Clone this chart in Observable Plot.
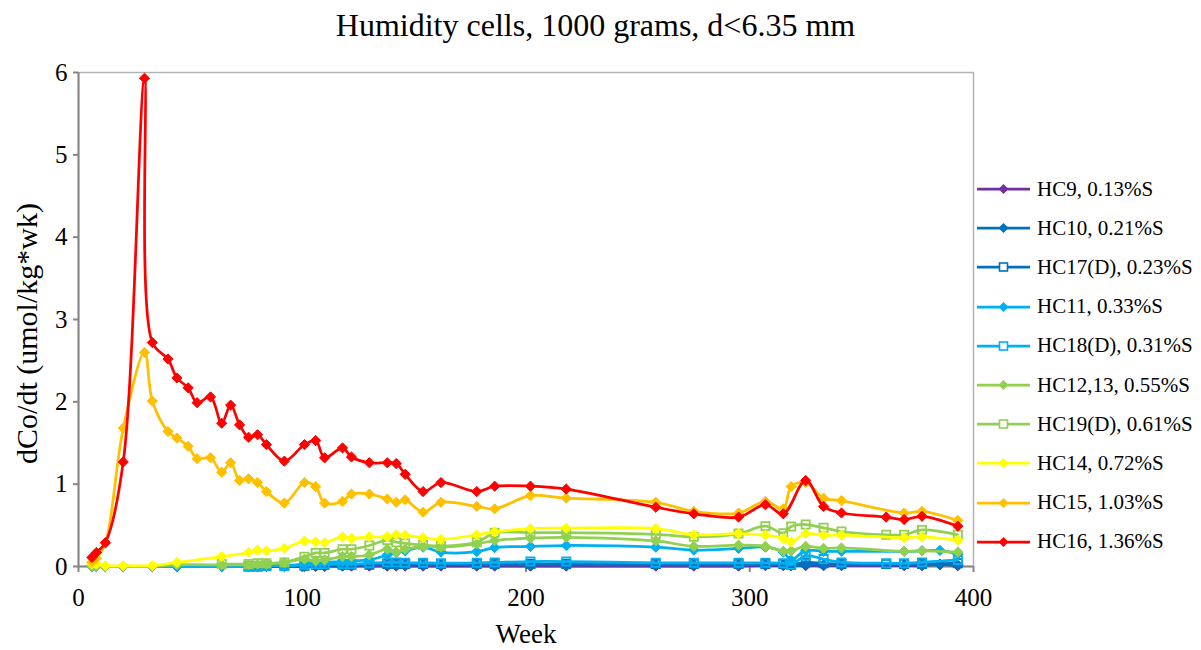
<!DOCTYPE html>
<html>
<head>
<meta charset="utf-8">
<script src="https://cdn.jsdelivr.net/npm/d3@7"></script>
<script src="https://cdn.jsdelivr.net/npm/@observablehq/plot@0.6"></script>
<style>
  body { margin: 0; background: #fff; }
  #wrap { position: relative; width: 1201px; height: 650px; font-family: "Liberation Serif", "Times New Roman", serif; color: #000; }
  #title { position: absolute; left: 0; top: 9px; width: 1191px; text-align: center; font-size: 32px; line-height: 32px; white-space: nowrap; }
  #chart { position: absolute; left: 0; top: 50px; }
  .lg { position: absolute; left: 977px; height: 24px; display: flex; align-items: center; font-size: 21px; white-space: nowrap; }
  .lg svg { display: block; margin-right: 6px; }
</style>
</head>
<body>
<div id="wrap">
  <div id="title">Humidity cells, 1000 grams, d&lt;6.35 mm</div>
  <div id="chart"></div>
</div>
<script>
// Sampling weeks (shared); null = no sample for that cell
const weeks = [6, 8, 12, 20, 29.5, 33, 40, 44, 49, 53,
  59, 64, 68, 72, 76, 80, 84, 92, 101, 106,
  110, 118, 122, 130, 138, 142, 146, 154, 162, 178,
  186, 202, 218, 258, 275, 295, 307, 315, 318.5, 325,
  333, 341, 361, 369, 377, 385, 393];

const HC9 = [0, 0, 0, 0, null, 0, null, 0, null, null,
  null, 0, null, null, 0, 0, 0, 0, 0, 0,
  0, 0.005, 0.005, 0.005, 0.005, 0.005, 0.005, 0.005, 0.005, 0.005,
  0.005, 0.005, 0.005, 0.005, 0.005, 0.005, 0.01, 0.01, 0.01, 0.01,
  0.01, 0.01, null, 0.01, 0.01, 0.03, 0.01];
const HC10 = [0, 0, 0, 0, null, 0, null, 0, null, null,
  null, 0, null, null, 0, 0.01, 0.01, 0.01, 0.01, 0.01,
  0.01, 0.01, 0.02, 0.02, 0.02, 0.02, 0.02, 0.02, 0.02, 0.02,
  0.02, 0.02, 0.02, 0.02, 0.02, 0.02, 0.02, 0.02, 0.01, 0.02,
  0.02, 0.02, null, 0.02, 0.02, 0.02, 0.02];
const HC17D = [null, null, null, null, null, null, null, null, null, null,
  null, null, null, null, 0, 0, 0.01, 0.01, 0.01, 0.02,
  0.02, 0.02, 0.02, 0.02, 0.03, 0.03, 0.03, 0.03, 0.03, 0.03,
  0.03, 0.03, 0.03, 0.03, 0.03, 0.03, 0.03, 0.03, 0.02, 0.05,
  0.04, 0.03, 0.03, 0.03, 0.03, null, 0.04];
const HC11 = [0, 0, 0, 0, null, 0, null, 0, null, null,
  null, 0, null, null, 0, 0.01, 0.01, 0.01, 0.03, 0.04,
  0.05, 0.06, 0.07, 0.08, 0.14, 0.17, 0.19, 0.235, 0.175, 0.18,
  0.23, 0.245, 0.255, 0.235, 0.20, 0.22, 0.235, 0.175, 0.08, 0.195,
  0.185, 0.185, null, 0.185, 0.19, 0.195, 0.15];
const HC18D = [null, null, null, null, null, null, null, null, null, null,
  null, null, null, null, 0, 0, 0.01, 0.01, 0.02, 0.03,
  0.03, 0.03, 0.03, 0.04, 0.05, 0.05, 0.045, 0.045, 0.04, 0.045,
  0.05, 0.06, 0.06, 0.045, 0.045, 0.045, 0.045, 0.04, 0.02, 0.13,
  0.09, 0.05, 0.04, 0.04, 0.05, null, 0.08];
const HC1213 = [0, 0, 0, 0, null, 0, null, 0.02, null, null,
  null, 0.02, null, null, 0.02, 0.03, 0.03, 0.05, 0.09, 0.07,
  0.08, 0.12, 0.12, 0.14, 0.21, 0.175, 0.21, 0.245, 0.235, 0.275,
  0.315, 0.345, 0.355, 0.31, 0.245, 0.26, 0.245, 0.185, 0.19, 0.245,
  0.22, 0.225, null, 0.185, 0.19, null, 0.175];
const HC19D = [null, null, null, null, null, null, null, null, null, null,
  null, 0.03, null, null, 0.03, 0.04, 0.04, 0.05, 0.12, 0.165,
  0.165, 0.21, 0.21, 0.255, 0.32, 0.295, 0.28, 0.26, 0.25, 0.295,
  0.41, 0.41, 0.41, 0.39, 0.36, 0.40, 0.49, 0.405, 0.485, 0.51,
  0.47, 0.425, 0.385, 0.385, 0.445, null, 0.385];
const HC14 = [0.03, 0.03, 0.01, 0.01, null, 0.01, null, 0.05, null, null,
  null, 0.12, null, null, 0.17, 0.20, 0.19, 0.22, 0.31, 0.30,
  0.29, 0.36, 0.34, 0.36, 0.36, 0.385, 0.38, 0.35, 0.33, 0.385,
  0.42, 0.46, 0.465, 0.46, 0.385, 0.40, 0.38, 0.34, 0.30, 0.40,
  0.38, 0.38, null, 0.35, 0.36, null, 0.32];
const HC15 = [0.05, 0.10, 0.28, 1.68, 2.60, 2.01, 1.64, 1.56, 1.46, 1.31,
  1.32, 1.145, 1.26, 1.045, 1.065, 1.02, 0.91, 0.77, 1.02, 0.97,
  0.77, 0.79, 0.88, 0.88, 0.82, 0.78, 0.81, 0.66, 0.78, 0.73,
  0.70, 0.86, 0.83, 0.78, 0.67, 0.65, 0.79, 0.70, 0.97, 1.02,
  0.83, 0.80, null, 0.65, 0.67, null, 0.56];
const HC16 = [0.11, 0.17, 0.29, 1.27, 5.93, 2.72, 2.52, 2.29, 2.17, 1.99,
  2.06, 1.74, 1.96, 1.72, 1.57, 1.60, 1.48, 1.28, 1.48, 1.53,
  1.32, 1.44, 1.33, 1.26, 1.26, 1.25, 1.12, 0.91, 1.02, 0.91,
  0.975, 0.975, 0.94, 0.72, 0.64, 0.60, 0.75, 0.64, null, 1.045,
  0.73, 0.65, 0.60, 0.57, 0.61, null, 0.49];

const seriesNames = ["HC9, 0.13%S", "HC10, 0.21%S", "HC17(D), 0.23%S", "HC11, 0.33%S", "HC18(D), 0.31%S",
  "HC12,13, 0.55%S", "HC19(D), 0.61%S", "HC14, 0.72%S", "HC15, 1.03%S", "HC16, 1.36%S"];
const seriesValues = [HC9, HC10, HC17D, HC11, HC18D, HC1213, HC19D, HC14, HC15, HC16];
const seriesColors = ["#7030A0", "#0070C0", "#0070C0", "#00B0F0", "#00B0F0",
  "#92D050", "#92D050", "#FFFF00", "#FFC000", "#FF0000"];
const seriesMarkers = ["diamond", "diamond", "square", "diamond", "square",
  "diamond", "square", "diamond", "diamond", "diamond"];

const xTicks = [0, 100, 200, 300, 400];
const yTicks = [0, 1, 2, 3, 4, 5, 6];
const xLabel = "Week";
const yLabel = "dCo/dt (umol/kg*wk)";

const axisGrey = "#868686";

const seriesMarks = [];
seriesValues.forEach((vals, i) => {
  const rows = weeks.map((w, j) => ({week: w, value: vals[j]})).filter(d => d.value != null);
  const sq = seriesMarkers[i] === "square";
  seriesMarks.push(Plot.line(rows, {x: "week", y: "value", stroke: seriesColors[i], strokeWidth: 2.75, curve: "catmull-rom"}));
  seriesMarks.push(Plot.dot(rows, {
    x: "week", y: "value",
    symbol: sq ? "square2" : "diamond2",
    r: sq ? 5.2 : 4.6,
    fill: sq ? "none" : seriesColors[i],
    stroke: seriesColors[i],
    strokeWidth: sq ? 1.8 : 1
  }));
});

const chart = Plot.plot({
  width: 975,
  height: 600,
  marginLeft: 78,
  marginRight: 2,
  marginTop: 22,
  marginBottom: 84,
  style: {fontFamily: "'Liberation Serif', 'Times New Roman', serif", fontSize: "25px", color: "#000", background: "#fff", overflow: "visible"},
  x: {domain: [0, 400]},
  y: {domain: [0, 6]},
  marks: [
    Plot.frame({stroke: "#b3b3b3", strokeWidth: 1.5}),
    Plot.axisX({ticks: xTicks, tickSize: 6, tickPadding: 16, label: null, stroke: axisGrey, strokeWidth: 2, fontSize: 25, tickFormat: d3.format("d")}),
    Plot.axisY({ticks: yTicks, tickSize: 5, tickPadding: 6, label: null, stroke: axisGrey, strokeWidth: 2, fontSize: 25, tickFormat: d3.format("d")}),
    Plot.ruleY([0], {stroke: axisGrey, strokeWidth: 2}),
    Plot.ruleX([0], {stroke: axisGrey, strokeWidth: 2}),
    Plot.text([xLabel], {frameAnchor: "bottom", dy: 76, fontSize: 27, fill: "#000"}),
    Plot.text([yLabel], {frameAnchor: "left", textAnchor: "middle", dx: -51, dy: 14, rotate: -90, fontSize: 30, fill: "#000"}),
    ...seriesMarks
  ]
});
document.getElementById("chart").appendChild(chart);

// Legend (HTML, right side)
const wrap = document.getElementById("wrap");
const ns = "http://www.w3.org/2000/svg";
seriesNames.forEach((name, i) => {
  const row = document.createElement("div");
  row.className = "lg";
  row.style.top = (189 + i * 39.2 - 12) + "px";
  const svg = document.createElementNS(ns, "svg");
  svg.setAttribute("width", 54);
  svg.setAttribute("height", 16);
  const line = document.createElementNS(ns, "line");
  line.setAttribute("x1", 0); line.setAttribute("x2", 53);
  line.setAttribute("y1", 8); line.setAttribute("y2", 8);
  line.setAttribute("stroke", seriesColors[i]);
  line.setAttribute("stroke-width", 2.75);
  svg.appendChild(line);
  if (seriesMarkers[i] === "square") {
    const r = document.createElementNS(ns, "rect");
    r.setAttribute("x", 22.5); r.setAttribute("y", 4); r.setAttribute("width", 8); r.setAttribute("height", 8);
    r.setAttribute("fill", "#fff"); r.setAttribute("stroke", seriesColors[i]); r.setAttribute("stroke-width", 1.6);
    svg.appendChild(r);
  } else {
    const p = document.createElementNS(ns, "path");
    p.setAttribute("d", "M26.5,3L31.5,8L26.5,13L21.5,8Z");
    p.setAttribute("fill", seriesColors[i]);
    svg.appendChild(p);
  }
  row.appendChild(svg);
  const t = document.createElement("span");
  t.textContent = name;
  row.appendChild(t);
  wrap.appendChild(row);
});
</script>
</body>
</html>
